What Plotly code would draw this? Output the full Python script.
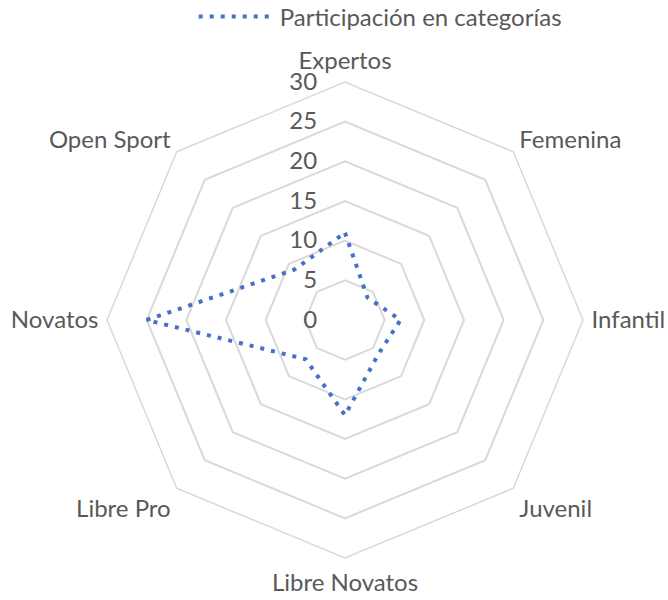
import plotly.graph_objects as go

categories = ["Expertos", "Femenina", "Infantil", "Juvenil", "Libre Novatos", "Libre Pro", "Novatos", "Open Sport"]
values = [11, 4, 7, 6, 12, 7, 25, 9]
series_name = "Participación en categorías"
tick_vals = [0, 5, 10, 15, 20, 25, 30]

font_family = "Lato, 'Open Sans', sans-serif"
text_color = "#595959"

fig = go.Figure()
fig.add_trace(go.Scatterpolar(
    r=values + values[:1],
    theta=categories + categories[:1],
    mode="lines",
    name=series_name,
    line=dict(color="#4472C4", width=4, dash="4px,7px"),
))

fig.update_layout(
    width=668, height=600,
    paper_bgcolor="white", plot_bgcolor="white",
    margin=dict(l=107, r=85, t=82, b=42, autoexpand=False),
    font=dict(family=font_family, size=24, color=text_color),
    showlegend=True,
    legend=dict(orientation="h", xref="container", yref="container",
                x=0.29, xanchor="left", y=0.972, yanchor="middle",
                font=dict(size=24, color=text_color), itemwidth=76,
                bgcolor="rgba(0,0,0,0)"),
    polar=dict(
        bgcolor="white",
        gridshape="linear",
        domain=dict(x=[0, 1], y=[0, 1]),
        radialaxis=dict(range=[0, 30], tickvals=tick_vals, angle=90, tickangle=90,
                        side="counterclockwise", showline=False,
                        gridcolor="#D9D9D9", gridwidth=1.5,
                        ticks="outside", ticklen=19, tickcolor="rgba(0,0,0,0)",
                        tickfont=dict(size=24, color=text_color)),
        angularaxis=dict(rotation=90, direction="clockwise", showgrid=False,
                         linecolor="#D9D9D9", linewidth=1.5,
                         ticks="outside", ticklen=3, tickcolor="rgba(0,0,0,0)",
                         tickfont=dict(size=24, color=text_color)),
    ),
)

fig.write_html("out.html", config={"displayModeBar": False},
               post_script="document.body.style.margin='0px';")
